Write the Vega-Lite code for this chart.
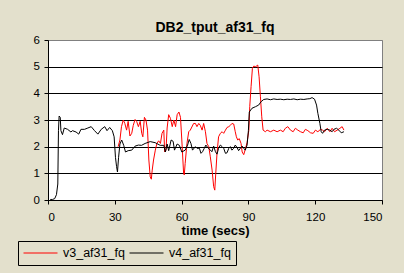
{
  "$schema": "https://vega.github.io/schema/vega-lite/v6.json",
  "width": 334,
  "height": 160,
  "autosize": {"type": "none"},
  "padding": {"left": 48, "top": 40, "right": 22, "bottom": 73},
  "background": "#e3e0cc",
  "title": {
    "text": "DB2_tput_af31_fq",
    "font": "Liberation Sans",
    "fontSize": 14,
    "fontWeight": "bold",
    "color": "#000000",
    "frame": "group",
    "anchor": "middle",
    "baseline": "alphabetic",
    "offset": -12.3
  },
  "data": {
    "values": [
      {"s": "v3_af31_fq", "t": 31.5, "v": 2.0},
      {"s": "v3_af31_fq", "t": 32.3, "v": 2.25},
      {"s": "v3_af31_fq", "t": 33, "v": 2.75},
      {"s": "v3_af31_fq", "t": 33.8, "v": 3.0},
      {"s": "v3_af31_fq", "t": 34.5, "v": 2.87},
      {"s": "v3_af31_fq", "t": 35.3, "v": 2.62},
      {"s": "v3_af31_fq", "t": 36, "v": 2.95},
      {"s": "v3_af31_fq", "t": 36.8, "v": 2.4},
      {"s": "v3_af31_fq", "t": 37.6, "v": 2.5},
      {"s": "v3_af31_fq", "t": 38.3, "v": 2.8},
      {"s": "v3_af31_fq", "t": 39.1, "v": 3.02},
      {"s": "v3_af31_fq", "t": 39.8, "v": 2.95},
      {"s": "v3_af31_fq", "t": 40.6, "v": 2.75},
      {"s": "v3_af31_fq", "t": 41.4, "v": 2.95},
      {"s": "v3_af31_fq", "t": 42.1, "v": 2.5},
      {"s": "v3_af31_fq", "t": 42.6, "v": 2.37},
      {"s": "v3_af31_fq", "t": 43.3, "v": 3.1},
      {"s": "v3_af31_fq", "t": 44, "v": 3.0},
      {"s": "v3_af31_fq", "t": 44.7, "v": 2.62},
      {"s": "v3_af31_fq", "t": 45.3, "v": 1.5},
      {"s": "v3_af31_fq", "t": 45.9, "v": 0.87},
      {"s": "v3_af31_fq", "t": 46.4, "v": 0.78},
      {"s": "v3_af31_fq", "t": 46.8, "v": 1.12},
      {"s": "v3_af31_fq", "t": 47.4, "v": 1.5},
      {"s": "v3_af31_fq", "t": 48.2, "v": 1.87},
      {"s": "v3_af31_fq", "t": 48.9, "v": 2.12},
      {"s": "v3_af31_fq", "t": 49.7, "v": 2.22},
      {"s": "v3_af31_fq", "t": 50.5, "v": 2.12},
      {"s": "v3_af31_fq", "t": 51.2, "v": 2.5},
      {"s": "v3_af31_fq", "t": 52, "v": 2.62},
      {"s": "v3_af31_fq", "t": 52.4, "v": 1.8},
      {"s": "v3_af31_fq", "t": 53, "v": 1.87},
      {"s": "v3_af31_fq", "t": 53.5, "v": 2.7},
      {"s": "v3_af31_fq", "t": 54.2, "v": 3.2},
      {"s": "v3_af31_fq", "t": 55, "v": 3.06},
      {"s": "v3_af31_fq", "t": 55.8, "v": 2.75},
      {"s": "v3_af31_fq", "t": 56.5, "v": 3.0},
      {"s": "v3_af31_fq", "t": 57.3, "v": 2.75},
      {"s": "v3_af31_fq", "t": 58, "v": 3.2},
      {"s": "v3_af31_fq", "t": 58.8, "v": 3.3},
      {"s": "v3_af31_fq", "t": 59.5, "v": 3.1},
      {"s": "v3_af31_fq", "t": 60.1, "v": 2.25},
      {"s": "v3_af31_fq", "t": 60.9, "v": 1.0},
      {"s": "v3_af31_fq", "t": 61.2, "v": 0.94},
      {"s": "v3_af31_fq", "t": 61.6, "v": 1.37},
      {"s": "v3_af31_fq", "t": 62.4, "v": 2.12},
      {"s": "v3_af31_fq", "t": 63.2, "v": 2.56},
      {"s": "v3_af31_fq", "t": 63.9, "v": 2.62},
      {"s": "v3_af31_fq", "t": 65.4, "v": 2.87},
      {"s": "v3_af31_fq", "t": 66.2, "v": 2.87},
      {"s": "v3_af31_fq", "t": 66.9, "v": 2.75},
      {"s": "v3_af31_fq", "t": 67.7, "v": 2.87},
      {"s": "v3_af31_fq", "t": 68.4, "v": 2.8},
      {"s": "v3_af31_fq", "t": 69.2, "v": 2.62},
      {"s": "v3_af31_fq", "t": 69.9, "v": 2.87},
      {"s": "v3_af31_fq", "t": 70.7, "v": 2.56},
      {"s": "v3_af31_fq", "t": 71.4, "v": 2.12},
      {"s": "v3_af31_fq", "t": 72.2, "v": 2.0},
      {"s": "v3_af31_fq", "t": 72.9, "v": 1.62},
      {"s": "v3_af31_fq", "t": 73.7, "v": 1.12},
      {"s": "v3_af31_fq", "t": 74.4, "v": 0.5},
      {"s": "v3_af31_fq", "t": 74.9, "v": 0.37},
      {"s": "v3_af31_fq", "t": 75.3, "v": 0.94},
      {"s": "v3_af31_fq", "t": 75.9, "v": 1.75},
      {"s": "v3_af31_fq", "t": 76.6, "v": 2.37},
      {"s": "v3_af31_fq", "t": 77.4, "v": 2.5},
      {"s": "v3_af31_fq", "t": 78.2, "v": 2.56},
      {"s": "v3_af31_fq", "t": 78.9, "v": 2.5},
      {"s": "v3_af31_fq", "t": 79.7, "v": 2.62},
      {"s": "v3_af31_fq", "t": 80.4, "v": 2.72},
      {"s": "v3_af31_fq", "t": 81.2, "v": 2.75},
      {"s": "v3_af31_fq", "t": 81.9, "v": 2.8},
      {"s": "v3_af31_fq", "t": 82.6, "v": 2.87},
      {"s": "v3_af31_fq", "t": 83.4, "v": 2.85},
      {"s": "v3_af31_fq", "t": 84.1, "v": 2.56},
      {"s": "v3_af31_fq", "t": 84.6, "v": 2.37},
      {"s": "v3_af31_fq", "t": 85.2, "v": 2.25},
      {"s": "v3_af31_fq", "t": 85.9, "v": 2.3},
      {"s": "v3_af31_fq", "t": 86.7, "v": 2.12},
      {"s": "v3_af31_fq", "t": 87.2, "v": 1.8},
      {"s": "v3_af31_fq", "t": 87.9, "v": 1.7},
      {"s": "v3_af31_fq", "t": 88.6, "v": 1.9},
      {"s": "v3_af31_fq", "t": 89.4, "v": 2.15},
      {"s": "v3_af31_fq", "t": 90.2, "v": 2.62},
      {"s": "v3_af31_fq", "t": 90.6, "v": 3.5},
      {"s": "v3_af31_fq", "t": 91.2, "v": 4.25},
      {"s": "v3_af31_fq", "t": 91.8, "v": 4.94},
      {"s": "v3_af31_fq", "t": 92.4, "v": 5.02},
      {"s": "v3_af31_fq", "t": 93.3, "v": 5.0},
      {"s": "v3_af31_fq", "t": 94.2, "v": 5.06},
      {"s": "v3_af31_fq", "t": 94.8, "v": 4.62},
      {"s": "v3_af31_fq", "t": 95.4, "v": 3.87},
      {"s": "v3_af31_fq", "t": 96, "v": 3.12},
      {"s": "v3_af31_fq", "t": 96.6, "v": 2.62},
      {"s": "v3_af31_fq", "t": 97.6, "v": 2.56},
      {"s": "v3_af31_fq", "t": 98.4, "v": 2.62},
      {"s": "v3_af31_fq", "t": 99.9, "v": 2.56},
      {"s": "v3_af31_fq", "t": 101.4, "v": 2.62},
      {"s": "v3_af31_fq", "t": 102.9, "v": 2.56},
      {"s": "v3_af31_fq", "t": 104.4, "v": 2.62},
      {"s": "v3_af31_fq", "t": 105.6, "v": 2.56},
      {"s": "v3_af31_fq", "t": 106.6, "v": 2.69},
      {"s": "v3_af31_fq", "t": 107.7, "v": 2.75},
      {"s": "v3_af31_fq", "t": 108.9, "v": 2.62},
      {"s": "v3_af31_fq", "t": 110.1, "v": 2.56},
      {"s": "v3_af31_fq", "t": 111.1, "v": 2.69},
      {"s": "v3_af31_fq", "t": 112.2, "v": 2.62},
      {"s": "v3_af31_fq", "t": 113.4, "v": 2.56},
      {"s": "v3_af31_fq", "t": 114.6, "v": 2.52},
      {"s": "v3_af31_fq", "t": 115.6, "v": 2.65},
      {"s": "v3_af31_fq", "t": 116.7, "v": 2.6},
      {"s": "v3_af31_fq", "t": 117.9, "v": 2.52},
      {"s": "v3_af31_fq", "t": 119.1, "v": 2.5},
      {"s": "v3_af31_fq", "t": 120.1, "v": 2.62},
      {"s": "v3_af31_fq", "t": 121.2, "v": 2.56},
      {"s": "v3_af31_fq", "t": 122.4, "v": 2.65},
      {"s": "v3_af31_fq", "t": 123.3, "v": 2.62},
      {"s": "v3_af31_fq", "t": 124.2, "v": 2.56},
      {"s": "v3_af31_fq", "t": 125.4, "v": 2.69},
      {"s": "v3_af31_fq", "t": 126.6, "v": 2.56},
      {"s": "v3_af31_fq", "t": 127.6, "v": 2.69},
      {"s": "v3_af31_fq", "t": 128.7, "v": 2.56},
      {"s": "v3_af31_fq", "t": 129.9, "v": 2.62},
      {"s": "v3_af31_fq", "t": 131.1, "v": 2.69},
      {"s": "v3_af31_fq", "t": 132.1, "v": 2.75},
      {"s": "v3_af31_fq", "t": 132.9, "v": 2.62},

      {"s": "v4_af31_fq", "t": 1, "v": 0.02},
      {"s": "v4_af31_fq", "t": 2, "v": 0.02},
      {"s": "v4_af31_fq", "t": 3, "v": 0.05},
      {"s": "v4_af31_fq", "t": 3.8, "v": 0.2},
      {"s": "v4_af31_fq", "t": 4.4, "v": 0.6},
      {"s": "v4_af31_fq", "t": 4.7, "v": 2.6},
      {"s": "v4_af31_fq", "t": 5.0, "v": 3.15},
      {"s": "v4_af31_fq", "t": 5.5, "v": 3.1},
      {"s": "v4_af31_fq", "t": 5.8, "v": 2.6},
      {"s": "v4_af31_fq", "t": 6.5, "v": 2.45},
      {"s": "v4_af31_fq", "t": 7.3, "v": 2.7},
      {"s": "v4_af31_fq", "t": 8.8, "v": 2.65},
      {"s": "v4_af31_fq", "t": 10.3, "v": 2.55},
      {"s": "v4_af31_fq", "t": 11, "v": 2.6},
      {"s": "v4_af31_fq", "t": 12.6, "v": 2.55},
      {"s": "v4_af31_fq", "t": 13.8, "v": 2.47},
      {"s": "v4_af31_fq", "t": 14.8, "v": 2.65},
      {"s": "v4_af31_fq", "t": 16.4, "v": 2.65},
      {"s": "v4_af31_fq", "t": 17.9, "v": 2.7},
      {"s": "v4_af31_fq", "t": 19.4, "v": 2.75},
      {"s": "v4_af31_fq", "t": 20.9, "v": 2.6},
      {"s": "v4_af31_fq", "t": 22.4, "v": 2.47},
      {"s": "v4_af31_fq", "t": 23.9, "v": 2.65},
      {"s": "v4_af31_fq", "t": 25.5, "v": 2.75},
      {"s": "v4_af31_fq", "t": 26.5, "v": 2.6},
      {"s": "v4_af31_fq", "t": 27.7, "v": 2.72},
      {"s": "v4_af31_fq", "t": 28.9, "v": 2.6},
      {"s": "v4_af31_fq", "t": 29.7, "v": 2.37},
      {"s": "v4_af31_fq", "t": 30.3, "v": 1.6},
      {"s": "v4_af31_fq", "t": 30.8, "v": 1.25},
      {"s": "v4_af31_fq", "t": 31.2, "v": 1.05},
      {"s": "v4_af31_fq", "t": 31.7, "v": 1.6},
      {"s": "v4_af31_fq", "t": 32.3, "v": 2.1},
      {"s": "v4_af31_fq", "t": 33.1, "v": 2.25},
      {"s": "v4_af31_fq", "t": 34, "v": 2.05},
      {"s": "v4_af31_fq", "t": 34.8, "v": 1.8},
      {"s": "v4_af31_fq", "t": 36, "v": 1.85},
      {"s": "v4_af31_fq", "t": 37.6, "v": 1.87},
      {"s": "v4_af31_fq", "t": 39.1, "v": 2.02},
      {"s": "v4_af31_fq", "t": 40.6, "v": 2.06},
      {"s": "v4_af31_fq", "t": 42, "v": 2.05},
      {"s": "v4_af31_fq", "t": 43.6, "v": 2.12},
      {"s": "v4_af31_fq", "t": 45.9, "v": 2.19},
      {"s": "v4_af31_fq", "t": 48.1, "v": 2.15},
      {"s": "v4_af31_fq", "t": 50.4, "v": 2.05},
      {"s": "v4_af31_fq", "t": 52, "v": 2.05},
      {"s": "v4_af31_fq", "t": 52.7, "v": 1.8},
      {"s": "v4_af31_fq", "t": 53.5, "v": 2.1},
      {"s": "v4_af31_fq", "t": 54.2, "v": 1.85},
      {"s": "v4_af31_fq", "t": 55.3, "v": 2.25},
      {"s": "v4_af31_fq", "t": 56.2, "v": 2.2},
      {"s": "v4_af31_fq", "t": 56.8, "v": 1.87},
      {"s": "v4_af31_fq", "t": 58, "v": 2.1},
      {"s": "v4_af31_fq", "t": 59, "v": 2.05},
      {"s": "v4_af31_fq", "t": 60.1, "v": 1.8},
      {"s": "v4_af31_fq", "t": 61.6, "v": 1.87},
      {"s": "v4_af31_fq", "t": 62.7, "v": 2.06},
      {"s": "v4_af31_fq", "t": 63.4, "v": 2.27},
      {"s": "v4_af31_fq", "t": 64.2, "v": 2.12},
      {"s": "v4_af31_fq", "t": 64.9, "v": 1.87},
      {"s": "v4_af31_fq", "t": 66.2, "v": 2.0},
      {"s": "v4_af31_fq", "t": 66.9, "v": 1.94},
      {"s": "v4_af31_fq", "t": 68, "v": 1.94},
      {"s": "v4_af31_fq", "t": 68.7, "v": 1.75},
      {"s": "v4_af31_fq", "t": 69.4, "v": 1.81},
      {"s": "v4_af31_fq", "t": 70.2, "v": 1.94},
      {"s": "v4_af31_fq", "t": 70.9, "v": 2.06},
      {"s": "v4_af31_fq", "t": 71.7, "v": 1.97},
      {"s": "v4_af31_fq", "t": 72.6, "v": 1.9},
      {"s": "v4_af31_fq", "t": 73.6, "v": 1.81},
      {"s": "v4_af31_fq", "t": 74.4, "v": 2.02},
      {"s": "v4_af31_fq", "t": 75.2, "v": 1.81},
      {"s": "v4_af31_fq", "t": 75.9, "v": 1.72},
      {"s": "v4_af31_fq", "t": 76.6, "v": 1.94},
      {"s": "v4_af31_fq", "t": 77.4, "v": 2.06},
      {"s": "v4_af31_fq", "t": 78.2, "v": 2.0},
      {"s": "v4_af31_fq", "t": 78.9, "v": 1.94},
      {"s": "v4_af31_fq", "t": 79.7, "v": 1.75},
      {"s": "v4_af31_fq", "t": 80.4, "v": 1.77},
      {"s": "v4_af31_fq", "t": 81.2, "v": 1.94},
      {"s": "v4_af31_fq", "t": 81.9, "v": 2.0},
      {"s": "v4_af31_fq", "t": 82.6, "v": 1.87},
      {"s": "v4_af31_fq", "t": 83.4, "v": 1.94},
      {"s": "v4_af31_fq", "t": 84.1, "v": 2.06},
      {"s": "v4_af31_fq", "t": 84.9, "v": 1.97},
      {"s": "v4_af31_fq", "t": 85.6, "v": 1.85},
      {"s": "v4_af31_fq", "t": 86.4, "v": 1.94},
      {"s": "v4_af31_fq", "t": 87.2, "v": 2.02},
      {"s": "v4_af31_fq", "t": 87.9, "v": 1.94},
      {"s": "v4_af31_fq", "t": 88.6, "v": 1.87},
      {"s": "v4_af31_fq", "t": 89.4, "v": 2.06},
      {"s": "v4_af31_fq", "t": 90.0, "v": 2.6},
      {"s": "v4_af31_fq", "t": 90.4, "v": 3.3},
      {"s": "v4_af31_fq", "t": 91.6, "v": 3.44},
      {"s": "v4_af31_fq", "t": 93.2, "v": 3.5},
      {"s": "v4_af31_fq", "t": 94.6, "v": 3.56},
      {"s": "v4_af31_fq", "t": 95.7, "v": 3.69},
      {"s": "v4_af31_fq", "t": 96.9, "v": 3.77},
      {"s": "v4_af31_fq", "t": 98.4, "v": 3.79},
      {"s": "v4_af31_fq", "t": 99.9, "v": 3.76},
      {"s": "v4_af31_fq", "t": 101.4, "v": 3.79},
      {"s": "v4_af31_fq", "t": 102.9, "v": 3.77},
      {"s": "v4_af31_fq", "t": 104.4, "v": 3.78},
      {"s": "v4_af31_fq", "t": 105.9, "v": 3.76},
      {"s": "v4_af31_fq", "t": 107.4, "v": 3.78},
      {"s": "v4_af31_fq", "t": 108.9, "v": 3.77},
      {"s": "v4_af31_fq", "t": 110.4, "v": 3.79},
      {"s": "v4_af31_fq", "t": 111.9, "v": 3.76},
      {"s": "v4_af31_fq", "t": 113.4, "v": 3.78},
      {"s": "v4_af31_fq", "t": 114.9, "v": 3.77},
      {"s": "v4_af31_fq", "t": 116.4, "v": 3.79},
      {"s": "v4_af31_fq", "t": 117.6, "v": 3.8},
      {"s": "v4_af31_fq", "t": 118.6, "v": 3.84},
      {"s": "v4_af31_fq", "t": 119.7, "v": 3.78},
      {"s": "v4_af31_fq", "t": 120.6, "v": 3.56},
      {"s": "v4_af31_fq", "t": 121.2, "v": 3.25},
      {"s": "v4_af31_fq", "t": 122.1, "v": 2.87},
      {"s": "v4_af31_fq", "t": 122.7, "v": 2.56},
      {"s": "v4_af31_fq", "t": 123.3, "v": 2.5},
      {"s": "v4_af31_fq", "t": 124.2, "v": 2.62},
      {"s": "v4_af31_fq", "t": 125.4, "v": 2.65},
      {"s": "v4_af31_fq", "t": 126.6, "v": 2.62},
      {"s": "v4_af31_fq", "t": 127.6, "v": 2.56},
      {"s": "v4_af31_fq", "t": 128.4, "v": 2.65},
      {"s": "v4_af31_fq", "t": 129.6, "v": 2.69},
      {"s": "v4_af31_fq", "t": 130.6, "v": 2.62},
      {"s": "v4_af31_fq", "t": 131.7, "v": 2.52},
      {"s": "v4_af31_fq", "t": 132.9, "v": 2.56}
    ]
  },
  "mark": {"type": "line", "strokeWidth": 1},
  "encoding": {
    "x": {
      "field": "t",
      "type": "quantitative",
      "scale": {"domain": [0, 150], "nice": false},
      "axis": {
        "values": [0, 30, 60, 90, 120, 150],
        "title": "time (secs)",
        "grid": false,
        "labelBaseline": "alphabetic",
        "labelPadding": 16,
        "titleBaseline": "alphabetic",
        "titleY": 34.5,
        "titleFont": "Liberation Sans",
        "titleFontSize": 13,
        "titleFontWeight": "bold"
      }
    },
    "y": {
      "field": "v",
      "type": "quantitative",
      "scale": {"domain": [0, 6], "nice": false},
      "axis": {
        "values": [0, 1, 2, 3, 4, 5, 6],
        "title": null,
        "grid": true,
        "gridColor": {"condition": {"test": "datum.value === 6", "value": "#808080"}, "value": "#000000"},
        "labelPadding": 4.5
      }
    },
    "color": {
      "field": "s",
      "type": "nominal",
      "scale": {"domain": ["v3_af31_fq", "v4_af31_fq"], "range": ["#ff0000", "#000000"]},
      "legend": {
        "orient": "none",
        "legendX": -30,
        "legendY": 201,
        "direction": "horizontal",
        "title": null,
        "symbolType": "stroke",
        "symbolSize": 1156,
        "symbolStrokeWidth": 1,
        "clipHeight": 14,
        "labelOffset": 5,
        "columnPadding": 4,
        "padding": 5,
        "strokeColor": "#000000",
        "labelFont": "Liberation Sans",
        "labelFontSize": 12.5,
        "labelColor": "#000000",
        "labelLimit": 200
      }
    }
  },
  "config": {
    "view": {"stroke": "#808080", "fill": "#ffffff"},
    "axis": {
      "domainColor": "#000000",
      "domainWidth": 1,
      "tickColor": "#000000",
      "tickSize": 4,
      "tickWidth": 1,
      "labelColor": "#000000",
      "labelFont": "Liberation Sans",
      "labelFontSize": 11.5,
      "titleColor": "#000000",
      "gridWidth": 1
    }
  }
}
